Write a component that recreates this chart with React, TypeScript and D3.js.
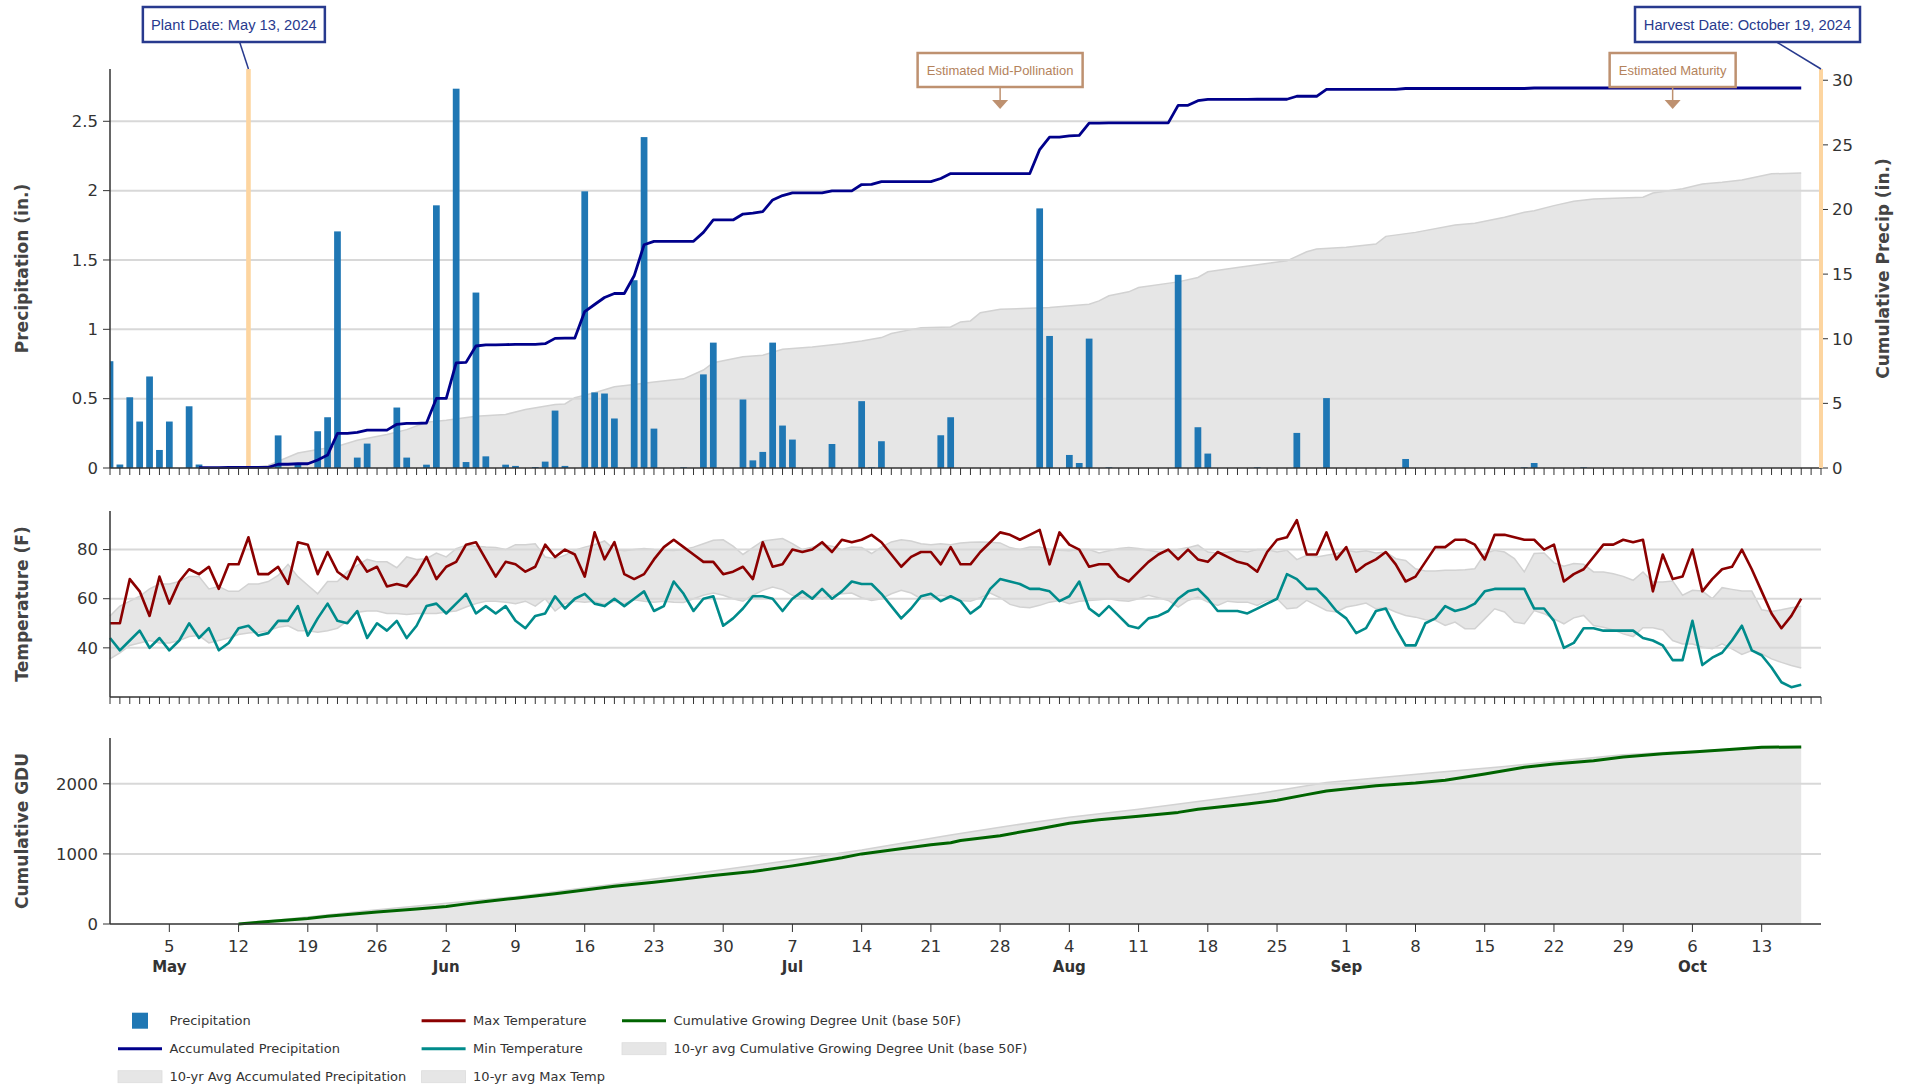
import React from "react";
import * as d3 from "d3";

// ---------------- DATA ----------------
const START_DATE = "2024-04-29"; // first day of daily data (day index 0)
const AXIS_END_DATE = "2024-10-19";

// Daily precipitation (in.), day 0 = Apr 29
const precipitation = [
  0.77, 0.025, 0.51, 0.335, 0.66, 0.13, 0.335, 0, 0.445, 0.025,
  0, 0, 0.005, 0, 0.005, 0, 0.005, 0.235, 0, 0.035,
  0, 0.265, 0.366, 1.706, 0, 0.075, 0.176, 0, 0, 0.436,
  0.075, 0, 0.024, 1.894, 0, 2.735, 0.043, 1.265, 0.084, 0,
  0.024, 0.015, 0, 0.007, 0.046, 0.414, 0.015, 0, 1.995, 0.545,
  0.537, 0.357, 0, 1.354, 2.386, 0.284, 0, 0, 0.005, 0,
  0.675, 0.904, 0, 0, 0.494, 0.055, 0.116, 0.904, 0.306, 0.205,
  0, 0, 0, 0.173, 0, 0, 0.482, 0.005, 0.193, 0,
  0, 0, 0, 0, 0.236, 0.366, 0, 0, 0, 0,
  0, 0, 0, 0, 1.872, 0.952, 0, 0.094, 0.036, 0.933,
  0, 0.005, 0, 0, 0, 0, 0, 0, 1.393, 0,
  0.294, 0.104, 0, 0, 0, 0, 0.005, 0, 0, 0,
  0.253, 0, 0, 0.504, 0, 0, 0, 0, 0, 0,
  0, 0.065, 0, 0, 0, 0, 0, 0, 0, 0,
  0, 0, 0, 0.005, 0.036, 0, 0, 0, 0, 0.005,
  0, 0, 0, 0, 0, 0, 0, 0, 0, 0,
  0, 0, 0, 0, 0, 0, 0, 0, 0, 0,
  0, 0,
];

// Accumulated precipitation (in.), starting at day index 9
const accumStartDay = 9;
const accumPrecip = [
  0.03,
  0.03, 0.03, 0.04, 0.04, 0.05, 0.05, 0.05, 0.29, 0.29, 0.33,
  0.33, 0.62, 1.0, 2.68, 2.68, 2.76, 2.93, 2.93, 2.93, 3.38,
  3.46, 3.46, 3.48, 5.38, 5.38, 8.13, 8.17, 9.44, 9.52, 9.52,
  9.55, 9.56, 9.56, 9.57, 9.62, 10.03, 10.05, 10.05, 12.1, 12.65,
  13.19, 13.5, 13.5, 14.87, 17.27, 17.53, 17.53, 17.53, 17.54, 17.54,
  18.23, 19.19, 19.19, 19.19, 19.65, 19.72, 19.83, 20.74, 21.08, 21.28,
  21.28, 21.28, 21.28, 21.44, 21.44, 21.44, 21.93, 21.94, 22.16, 22.16,
  22.16, 22.16, 22.16, 22.16, 22.4, 22.78, 22.78, 22.78, 22.78, 22.78,
  22.78, 22.78, 22.78, 22.78, 24.64, 25.6, 25.6, 25.69, 25.73, 26.69,
  26.69, 26.7, 26.7, 26.7, 26.7, 26.7, 26.7, 26.7, 28.06, 28.06,
  28.42, 28.52, 28.52, 28.52, 28.52, 28.52, 28.53, 28.53, 28.53, 28.53,
  28.76, 28.76, 28.76, 29.3, 29.3, 29.3, 29.3, 29.3, 29.3, 29.3,
  29.3, 29.36, 29.36, 29.36, 29.36, 29.36, 29.36, 29.36, 29.36, 29.36,
  29.36, 29.36, 29.36, 29.36, 29.4, 29.4, 29.4, 29.4, 29.4, 29.4,
  29.4, 29.4, 29.4, 29.4, 29.4, 29.4, 29.4, 29.4, 29.4, 29.4,
  29.4, 29.4, 29.4, 29.4, 29.4, 29.4, 29.4, 29.4, 29.4, 29.4,
  29.4, 29.4,
];

// 10-yr avg accumulated precipitation (read points)
const avgAccumDays = [
  14, 16, 19, 20, 23, 25, 28, 30, 32, 34, 37, 40, 42, 45, 46, 47, 49, 51, 53, 55,
  58, 60, 61, 64, 66, 68, 71, 74, 76, 78, 79, 82, 85, 86, 87, 88, 90, 93, 95, 99,
  100, 101, 103, 104, 108, 110, 111, 114, 119, 121, 122, 125, 128, 129, 132, 136, 138, 141, 143, 144,
  146, 148, 150, 155, 156, 159, 161, 163, 165, 168, 171,
];
const avgAccumValues = [
  0, 0.2, 1.16, 1.3, 1.68, 2.15, 2.59, 2.97, 3.54, 3.7, 4.0, 4.14, 4.53, 4.91, 4.96, 5.43, 5.82, 6.28, 6.46, 6.65,
  6.9, 7.58, 8.15, 8.61, 8.72, 9.18, 9.36, 9.62, 9.83, 10.09, 10.4, 10.86, 10.91, 11.3, 11.38, 12.02, 12.28, 12.36, 12.41, 12.67,
  12.93, 13.32, 13.63, 13.96, 14.4, 14.74, 15.18, 15.52, 16.03, 16.73, 16.94, 17.07, 17.33, 17.92, 18.23, 18.8, 18.93, 19.4, 19.78, 19.91,
  20.3, 20.64, 20.82, 20.95, 21.28, 21.6, 21.98, 22.11, 22.29, 22.76, 22.83,
];

// Daily max / min temperature (F)
const maxTemp = [
  50, 50, 68, 63, 53, 69, 58, 67, 72, 70,
  73, 64, 74, 74, 85, 70, 70, 73, 66, 83,
  82, 70, 79, 71, 68, 77, 71, 73, 65, 66,
  65, 70, 77, 68, 73, 75, 82, 83, 76, 69,
  75, 74, 71, 73, 82, 77, 80, 78, 69, 87,
  76, 83, 70, 68, 70, 76, 81, 84, 81, 78,
  75, 75, 70, 71, 73, 68, 83, 73, 74, 80,
  79, 80, 83, 79, 84, 83, 84, 86, 83, 78,
  73, 77, 79, 79, 74, 81, 74, 74, 79, 83,
  87, 86, 84, 86, 88, 74, 87, 82, 80, 73,
  74, 74, 69, 67, 71, 75, 78, 80, 76, 80,
  76, 75, 79, 77, 75, 74, 71, 79, 84, 85,
  92, 78, 78, 87, 76, 81, 71, 74, 76, 79,
  74, 67, 69, 75, 81, 81, 84, 84, 82, 76,
  86, 86, 85, 84, 84, 80, 82, 67, 70, 72,
  77, 82, 82, 84, 83, 84, 63, 78, 68, 69,
  80, 63, 68, 72, 73, 80, 72, 63, 54, 48,
  53, 60,
];
const minTemp = [
  44, 39, 43, 47, 40, 44, 39, 43, 50, 44,
  48, 39, 42, 48, 49, 45, 46, 51, 51, 57,
  45, 52, 58, 51, 50, 55, 44, 50, 47, 51,
  44, 49, 57, 58, 54, 58, 62, 54, 57, 54,
  57, 51, 48, 53, 54, 61, 56, 60, 62, 58,
  57, 60, 57, 60, 63, 55, 57, 67, 62, 55,
  60, 61, 49, 52, 56, 61, 61, 60, 55, 60,
  63, 60, 64, 60, 63, 67, 66, 66, 62, 57,
  52, 56, 61, 62, 59, 61, 59, 54, 57, 64,
  68, 67, 66, 64, 64, 63, 59, 61, 67, 56,
  53, 57, 53, 49, 48, 52, 53, 55, 60, 63,
  64, 60, 55, 55, 55, 54, 56, 58, 60, 70,
  68, 64, 64, 60, 55, 52, 46, 48, 55, 56,
  48, 41, 41, 50, 52, 57, 55, 56, 58, 63,
  64, 64, 64, 64, 56, 56, 51, 40, 42, 48,
  48, 47, 47, 47, 47, 44, 43, 41, 35, 35,
  51, 33, 36, 38, 43, 49, 39, 37, 32, 26,
  24, 25,
];

// 10-yr average temperature band (upper = avg max, lower = avg min)
const avgMaxTemp = [
  53, 57, 59, 61, 64, 66, 66, 67, 69, 69,
  64, 65, 63, 63, 66, 66, 67, 69.5, 74, 69,
  65.5, 62, 67, 67, 71, 73.6, 76, 75, 75, 72.6,
  77, 76, 76.3, 78.6, 77, 80.4, 81.8, 81.4, 81, 80.8,
  80, 82, 82, 82.4, 77, 76.3, 77.7, 79.7, 81, 82,
  83.5, 80, 79.5, 80, 80.4, 80, 79.7, 79.6, 80, 81,
  82.4, 83.8, 84, 81.4, 78, 80.8, 83.5, 84, 84.5, 82.4,
  80, 81, 82, 81.4, 80, 81, 80.8, 78.4, 81, 83.1,
  84, 83.5, 82.4, 82, 82.4, 82, 82.7, 83, 83.1, 83,
  82.7, 80.8, 80, 81, 81, 80, 79.7, 79.5, 80, 80,
  78.6, 79.5, 80.4, 80.8, 80.4, 79.7, 79, 79, 80, 80.8,
  81.8, 79, 78.6, 79, 79.5, 79, 80, 80, 79, 79.7,
  75.9, 77.7, 77, 77.7, 78.4, 79.7, 79, 79.5, 78.6, 79,
  76.3, 75.6, 72.2, 71.3, 71.3, 71.6, 71.6, 71.8, 72.2, 78.4,
  79.7, 79, 76.3, 70.9, 78.4, 78.6, 74.6, 73.2, 74.3, 74,
  70.9, 70.9, 70.2, 69.1, 67.5, 70.9, 66.8, 66.8, 67.2, 61.4,
  63.4, 63.1, 60, 64.5, 63.8, 63.1, 63.1, 55.5, 54.8, 55.5,
  56.3, 56.9,
];
const avgMinTemp = [
  35.5, 38, 41, 42, 43, 42, 42, 43, 44.6, 45,
  42, 43, 44, 45.4, 46, 46.4, 47, 48.4, 49, 47,
  47, 46.4, 47, 48, 51, 54.5, 55, 55, 54, 54,
  53.6, 54, 54, 54, 54.6, 55, 56.6, 58, 59, 59,
  58.6, 58, 59, 57, 60, 55, 58, 59, 58.6, 59,
  57.7, 59, 58, 59.6, 59, 58.6, 59, 58.6, 58.5, 60,
  61.4, 62.3, 61.4, 60, 59, 61.4, 63.4, 64.8, 63.7, 61.4,
  60.4, 61, 60, 61.4, 62, 62.3, 60.4, 59.3, 60, 62,
  63.4, 62.3, 60, 60.4, 61.4, 60.7, 59.3, 59, 60.4, 62.3,
  60.4, 57.7, 56.6, 56.3, 57.3, 58.6, 59.3, 58, 59, 59.3,
  59.6, 60, 59.3, 59, 60, 61.4, 60.4, 59.3, 56.6, 59.3,
  60.7, 58.6, 57.3, 59, 58.6, 58.6, 57.3, 59.3, 60, 55.9,
  56.3, 59.3, 57.3, 55.2, 54.6, 56.6, 57.3, 58.2, 55.9, 56.3,
  54.6, 53.2, 52.5, 51.4, 51.2, 49.1, 50.5, 47.8, 47.8, 51.8,
  55.9, 54.6, 50.5, 49.8, 55.2, 53.9, 51.8, 49.8, 52.2, 53.2,
  49.1, 48.4, 47.3, 45.7, 44.6, 48.2, 48.2, 47.3, 43, 41.6,
  41.6, 40.3, 39.6, 41.6, 39.6, 37.3, 38.9, 37.6, 35.5, 34.1,
  32.8, 31.8,
];

// Cumulative GDU (read points)
const gduDays = [
  13, 15, 20, 22, 27, 31, 34, 36, 38, 41, 45, 48, 51, 55, 57, 61, 65, 69, 71, 74,
  76, 79, 83, 85, 86, 90, 94, 97, 100, 104, 108, 110, 115, 118, 121, 123, 128, 132, 135, 139,
  143, 146, 150, 153, 157, 160, 163, 167, 171,
];
const gduValues = [
  0, 25, 78, 110, 172, 215, 250, 287, 320, 368, 432, 486, 538, 595, 629, 692, 748, 829, 874, 945,
  1000, 1055, 1131, 1160, 1190, 1260, 1360, 1438, 1488, 1536, 1592, 1638, 1712, 1765, 1845, 1898, 1971, 2010, 2050, 2140,
  2236, 2283, 2329, 2381, 2430, 2452, 2481, 2522, 2524,
];
// 10-yr avg cumulative GDU (read points)
const avgGduDays = [13, 26, 41, 57, 69, 76, 85, 90, 97, 104, 110, 116, 123, 128, 134, 141, 147, 153, 159, 166, 171];
const avgGduValues = [0, 190, 390, 676, 914, 1057, 1271, 1381, 1524, 1638, 1748, 1857, 2019, 2081, 2162, 2248, 2333, 2414, 2462, 2505, 2524];

const precipTicks = [0, 0.5, 1, 1.5, 2, 2.5];
const cumPrecipTicks = [0, 5, 10, 15, 20, 25, 30];
const tempTicks = [40, 60, 80];
const gduTicks = [0, 1000, 2000];

const plantDate = "2024-05-13";
const harvestDate = "2024-10-19";
const midPollinationDate = "2024-07-28";
const maturityDate = "2024-10-04";

// ---------------- STYLE ----------------
const TICK_FONT = "DejaVu Sans";
const NOTE_FONT = "Liberation Sans, Arial, sans-serif";
const AXIS_COLOR = "#333";
const GRID = "#d8d8d8";
const GRAY_FILL = "#e6e6e6";
const GRAY_LINE = "#d2d2d2";
const NAVY = "#00008b";
const BLUE = "#1f77b4";
const RED = "#8b0000";
const TEAL = "#008b8b";
const GREEN = "#006400";
const NOTE_NAVY = "#283a8e";
const TAN = "#be9170";
const TAN_TEXT = "#b4835c";
const PEACH = "#fdd5a0";

const parse = d3.timeParse("%Y-%m-%d");

export default function App() {
  const start = parse(START_DATE) as Date;
  const axisEnd = parse(AXIS_END_DATE) as Date;
  const day = (k: number) => d3.timeDay.offset(start, k);

  const L = 110, R = 1821;
  const p1 = { top: 69, bottom: 468 };
  const p2 = { top: 511, bottom: 697 };
  const p3 = { top: 738, bottom: 924 };

  const x = d3.scaleTime().domain([start, axisEnd]).range([L, R]);
  const yP = d3.scaleLinear().domain([0, 2.877]).range([p1.bottom, p1.top]);
  const yC = d3.scaleLinear().domain([0, 30.87]).range([p1.bottom, p1.top]);
  const yT = d3.scaleLinear().domain([20, 95.7]).range([p2.bottom, p2.top]);
  const yG = d3.scaleLinear().domain([0, 2653]).range([p3.bottom, p3.top]);

  const dayW = x(day(1)) - x(day(0));
  const barW = dayW * 0.68;

  const dailyTicks = d3.timeDay.range(start, d3.timeDay.offset(axisEnd, 1));
  const weekTicks = d3.timeWeek.range(start, d3.timeDay.offset(axisEnd, 1));

  const accumLine = d3.line<number>()
    .x((_, i) => x(day(accumStartDay + i)))
    .y((v) => yC(v))(accumPrecip) as string;

  const avgAccumIdx = d3.range(avgAccumDays.length);
  const avgAccumArea = d3.area<number>()
    .x((i) => x(day(avgAccumDays[i])))
    .y0(yC(0))
    .y1((i) => yC(avgAccumValues[i]))(avgAccumIdx) as string;
  const avgAccumTop = d3.line<number>()
    .x((i) => x(day(avgAccumDays[i])))
    .y((i) => yC(avgAccumValues[i]))(avgAccumIdx) as string;

  const tIdx = d3.range(maxTemp.length);
  const band = d3.area<number>()
    .x((i) => x(day(i)))
    .y0((i) => yT(avgMinTemp[i]))
    .y1((i) => yT(avgMaxTemp[i]))(tIdx) as string;
  const bandTop = d3.line<number>().x((i) => x(day(i))).y((i) => yT(avgMaxTemp[i]))(tIdx) as string;
  const bandBot = d3.line<number>().x((i) => x(day(i))).y((i) => yT(avgMinTemp[i]))(tIdx) as string;
  const maxLine = d3.line<number>().x((i) => x(day(i))).y((i) => yT(maxTemp[i]))(tIdx) as string;
  const minLine = d3.line<number>().x((i) => x(day(i))).y((i) => yT(minTemp[i]))(tIdx) as string;

  const gIdx = d3.range(gduDays.length);
  const gduLine = d3.line<number>().x((i) => x(day(gduDays[i]))).y((i) => yG(gduValues[i]))(gIdx) as string;
  const agIdx = d3.range(avgGduDays.length);
  const avgGduArea = d3.area<number>()
    .x((i) => x(day(avgGduDays[i])))
    .y0(yG(0))
    .y1((i) => yG(avgGduValues[i]))(agIdx) as string;
  const avgGduTop = d3.line<number>().x((i) => x(day(avgGduDays[i]))).y((i) => yG(avgGduValues[i]))(agIdx) as string;

  const xPlant = x(parse(plantDate) as Date);
  const xHarvest = x(parse(harvestDate) as Date);
  const xPoll = x(parse(midPollinationDate) as Date);
  const xMat = x(parse(maturityDate) as Date);

  const tickText = { fontFamily: TICK_FONT, fontSize: 16.5, fill: AXIS_COLOR } as const;
  const titleText = { fontFamily: TICK_FONT, fontSize: 17, fontWeight: "bold", fill: "#444" } as const;

  const dayTickMarks = (yBase: number) =>
    dailyTicks.map((d, i) => (
      <line key={i} x1={x(d)} x2={x(d)} y1={yBase} y2={yBase + 7} stroke={AXIS_COLOR} strokeWidth={1} />
    ));

  const grid = (ticks: number[], y: (v: number) => number) => (
    <g>
      {ticks.filter((t) => t !== 0).map((t) => (
        <line key={"g" + t} x1={L} x2={R} y1={y(t)} y2={y(t)} stroke={GRID} strokeWidth={2} />
      ))}
    </g>
  );

  const leftTicks = (ticks: number[], y: (v: number) => number) => (
    <g>
      {ticks.map((t) => (
        <g key={"t" + t}>
          <line x1={L - 7} x2={L} y1={y(t)} y2={y(t)} stroke={AXIS_COLOR} strokeWidth={1} />
          <text x={L - 12} y={y(t)} dy="0.35em" textAnchor="end" {...tickText}>{String(t)}</text>
        </g>
      ))}
    </g>
  );

  const legendCols = [118, 421.6, 622];
  const legendRows = [1020.7, 1048.7, 1076.7];
  const legendItems = [
    { label: "Precipitation", kind: "bar", color: BLUE },
    { label: "Accumulated Precipitation", kind: "line", color: NAVY },
    { label: "10-yr Avg Accumulated Precipitation", kind: "area", color: GRAY_FILL },
    { label: "Max Temperature", kind: "line", color: RED },
    { label: "Min Temperature", kind: "line", color: TEAL },
    { label: "10-yr avg Max Temp", kind: "area", color: GRAY_FILL },
    { label: "Cumulative Growing Degree Unit (base 50F)", kind: "line", color: GREEN },
    { label: "10-yr avg Cumulative Growing Degree Unit (base 50F)", kind: "area", color: GRAY_FILL },
  ];

  return (
    <svg width={1914} height={1086} style={{ position: "absolute", left: 0, top: 0, background: "#fff" }}>
      <defs>
        <clipPath id="clipTop">
          <rect x={L} y={p1.top - 5} width={R - L} height={p1.bottom - p1.top + 5} />
        </clipPath>
      </defs>

      {/* ---------- TOP PANEL ---------- */}
      <path d={avgAccumArea} fill={GRAY_FILL} />
      <path d={avgAccumTop} fill="none" stroke={GRAY_LINE} strokeWidth={1.5} />
      {grid(precipTicks, yP)}
      <g clipPath="url(#clipTop)">
        {precipitation.map((v, i) =>
          v > 0 ? (
            <rect key={i} x={x(day(i)) - barW / 2} y={yP(v)} width={barW} height={yP(0) - yP(v)} fill={BLUE} />
          ) : null
        )}
      </g>
      <rect x={xPlant - 2.3} y={p1.top} width={4.6} height={p1.bottom - p1.top} fill={PEACH} />
      <path d={accumLine} fill="none" stroke={NAVY} strokeWidth={2.8} strokeLinejoin="round" />
      <line x1={L} x2={L} y1={p1.top} y2={p1.bottom} stroke={AXIS_COLOR} strokeWidth={1.5} />
      <line x1={L} x2={R} y1={p1.bottom} y2={p1.bottom} stroke={AXIS_COLOR} strokeWidth={1.5} />
      {dayTickMarks(p1.bottom)}
      {leftTicks(precipTicks, yP)}
      {cumPrecipTicks.map((t) => (
        <g key={"r" + t}>
          <line x1={R} x2={R + 7} y1={yC(t)} y2={yC(t)} stroke={AXIS_COLOR} strokeWidth={1} />
          <text x={R + 11} y={yC(t)} dy="0.35em" textAnchor="start" {...tickText}>{t}</text>
        </g>
      ))}
      <line x1={R} x2={R} y1={p1.top} y2={p1.bottom} stroke={AXIS_COLOR} strokeWidth={1} />
      <rect x={xHarvest - 2} y={p1.top} width={4} height={p1.bottom - p1.top} fill={PEACH} />
      <text transform={`translate(22,${(p1.top + p1.bottom) / 2}) rotate(-90)`} textAnchor="middle" dy="0.35em" {...titleText}>
        Precipitation (in.)
      </text>
      <text transform={`translate(1883,${(p1.top + p1.bottom) / 2}) rotate(-90)`} textAnchor="middle" dy="0.35em" {...titleText}>
        Cumulative Precip (in.)
      </text>

      {/* annotations */}
      <line x1={xPlant - 14.6} y1={24.5} x2={xPlant} y2={p1.top} stroke={NOTE_NAVY} strokeWidth={1.5} />
      <rect x={xPlant - 14.6 - 91} y={7} width={182} height={35} fill="#fff" stroke={NOTE_NAVY} strokeWidth={2.5} />
      <text x={xPlant - 14.6} y={24.5} dy="0.36em" textAnchor="middle" fontFamily={NOTE_FONT} fontSize={14.7} fill={NOTE_NAVY}>
        Plant Date: May 13, 2024
      </text>
      <line x1={xHarvest - 73.5} y1={24.5} x2={xHarvest} y2={p1.top} stroke={NOTE_NAVY} strokeWidth={1.5} />
      <rect x={xHarvest - 73.5 - 112.5} y={7} width={225} height={35} fill="#fff" stroke={NOTE_NAVY} strokeWidth={2.5} />
      <text x={xHarvest - 73.5} y={24.5} dy="0.36em" textAnchor="middle" fontFamily={NOTE_FONT} fontSize={14.7} fill={NOTE_NAVY}>
        Harvest Date: October 19, 2024
      </text>

      {[{ cx: xPoll, w: 165, label: "Estimated Mid-Pollination" }, { cx: xMat, w: 126, label: "Estimated Maturity" }].map((a) => (
        <g key={a.label}>
          <rect x={a.cx - a.w / 2} y={53} width={a.w} height={34} fill="#fff" stroke={TAN} strokeWidth={2.5} />
          <text x={a.cx} y={70} dy="0.36em" textAnchor="middle" fontFamily={NOTE_FONT} fontSize={13} fill={TAN_TEXT}>
            {a.label}
          </text>
          <line x1={a.cx} x2={a.cx} y1={88} y2={100} stroke={TAN} strokeWidth={1.5} />
          <path d={`M${a.cx - 8},100 L${a.cx + 8},100 L${a.cx},109 Z`} fill={TAN} />
        </g>
      ))}

      {/* ---------- MIDDLE PANEL ---------- */}
      <path d={band} fill={GRAY_FILL} />
      <path d={bandTop} fill="none" stroke={GRAY_LINE} strokeWidth={1.5} />
      <path d={bandBot} fill="none" stroke={GRAY_LINE} strokeWidth={1.5} />
      {grid(tempTicks, yT)}
      <path d={maxLine} fill="none" stroke={RED} strokeWidth={2.6} strokeLinejoin="round" />
      <path d={minLine} fill="none" stroke={TEAL} strokeWidth={2.6} strokeLinejoin="round" />
      <line x1={L} x2={L} y1={p2.top} y2={p2.bottom} stroke={AXIS_COLOR} strokeWidth={1.5} />
      <line x1={L} x2={R} y1={p2.bottom} y2={p2.bottom} stroke={AXIS_COLOR} strokeWidth={1.5} />
      {dayTickMarks(p2.bottom)}
      {leftTicks(tempTicks, yT)}
      <text transform={`translate(22,${(p2.top + p2.bottom) / 2}) rotate(-90)`} textAnchor="middle" dy="0.35em" {...titleText}>
        Temperature (F)
      </text>

      {/* ---------- BOTTOM PANEL ---------- */}
      <path d={avgGduArea} fill={GRAY_FILL} />
      <path d={avgGduTop} fill="none" stroke={GRAY_LINE} strokeWidth={1.5} />
      {grid(gduTicks, yG)}
      <path d={gduLine} fill="none" stroke={GREEN} strokeWidth={3} strokeLinejoin="round" />
      <line x1={L} x2={L} y1={p3.top} y2={p3.bottom} stroke={AXIS_COLOR} strokeWidth={1.5} />
      <line x1={L} x2={R} y1={p3.bottom} y2={p3.bottom} stroke={AXIS_COLOR} strokeWidth={1.5} />
      {leftTicks(gduTicks, yG)}
      {weekTicks.map((d, i) => (
        <g key={"w" + i}>
          <line x1={x(d)} x2={x(d)} y1={p3.bottom} y2={p3.bottom + 8} stroke={AXIS_COLOR} strokeWidth={1} />
          <text x={x(d)} y={952} textAnchor="middle" {...tickText}>{d3.timeFormat("%-d")(d)}</text>
          {d.getDate() <= 7 ? (
            <text x={x(d)} y={972} textAnchor="middle" fontFamily={TICK_FONT} fontSize={15} fontWeight="bold" fill={AXIS_COLOR}>
              {d3.timeFormat("%b")(d)}
            </text>
          ) : null}
        </g>
      ))}
      <text transform={`translate(22,${(p3.top + p3.bottom) / 2}) rotate(-90)`} textAnchor="middle" dy="0.35em" {...titleText}>
        Cumulative GDU
      </text>

      {/* ---------- LEGEND ---------- */}
      {legendItems.map((it, i) => {
        const col = Math.floor(i / 3);
        const row = i % 3;
        const sx = legendCols[col];
        const cy = legendRows[row];
        return (
          <g key={it.label}>
            {it.kind === "bar" ? (
              <rect x={sx + 14} y={cy - 8} width={16} height={16} fill={it.color} />
            ) : it.kind === "line" ? (
              <line x1={sx} x2={sx + 44} y1={cy} y2={cy} stroke={it.color} strokeWidth={3} />
            ) : (
              <rect x={sx} y={cy - 6} width={44} height={12} fill={it.color} stroke="#dddddd" strokeWidth={0.8} />
            )}
            <text x={sx + 51.5} y={cy} dy="0.35em" fontFamily={TICK_FONT} fontSize={13} fill="#333">
              {it.label}
            </text>
          </g>
        );
      })}
    </svg>
  );
}
